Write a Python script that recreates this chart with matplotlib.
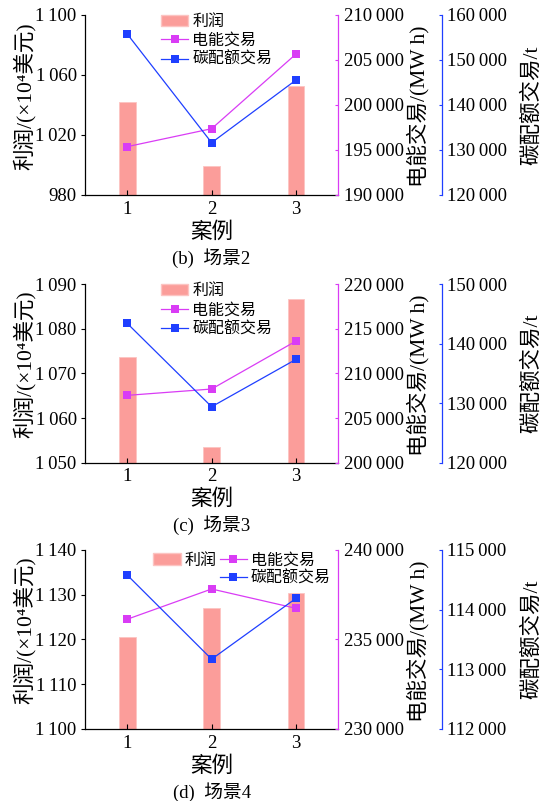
import matplotlib
matplotlib.use("Agg")
import numpy as np
import matplotlib.pyplot as plt
from matplotlib.patches import Patch
from matplotlib.ticker import FuncFormatter

plt.rcParams["font.family"] = ["Liberation Serif", "Noto Sans CJK SC", "DejaVu Serif"]

# data
cases = [1, 2, 3]

profit_b = [1041.7, 999.3, 1052.5]          # 1e4 USD
elec_b = [195360, 197350, 205640]           # MW h
carbon_b = [155720, 131600, 145510]         # t

profit_c = [1073.7, 1053.6, 1086.7]
elec_c = [207540, 208250, 213620]
carbon_c = [143400, 129400, 137360]

profit_d = [1120.6, 1127.0, 1130.4]
elec_d = [236130, 237820, 236740]
carbon_d = [114580, 113170, 114190]

BAR = "#fb9d9a"
MAG = "#d93cf5"
BLUE = "#1f3fff"
TICK_FS = 13.5
LABEL_FS = 15.5


def thin_thousands(v, pos):
    return f"{int(round(v)):,}".replace(",", "\u2009")


def ticks(lim, step):
    return np.arange(lim[0], lim[1] + step / 2, step)


def panel(fig, rect, profit, elec, carbon, plim, pstep, elim, estep,
          clim, cstep, caption, two_col=False):
    ax = fig.add_axes(rect)
    ax.bar(cases, profit, width=0.2, color=BAR, edgecolor="#fcc4c2",
           linewidth=0.6)
    ax.set_xlim(0.5, 3.5)
    ax.set_ylim(*plim)
    ax.set_yticks(ticks(plim, pstep))
    ax.yaxis.set_major_formatter(FuncFormatter(thin_thousands))
    ax.set_xticks(cases)
    ax.tick_params(axis="x", direction="in", length=3.5, width=0.8,
                   labelsize=TICK_FS, pad=4)
    ax.tick_params(axis="y", direction="out", length=3, width=0.8,
                   labelsize=TICK_FS, pad=3)
    ax.spines["top"].set_visible(False)
    ax.spines["right"].set_visible(False)
    for s in ("left", "bottom"):
        ax.spines[s].set_linewidth(0.9)
    ax.set_ylabel("利润/(×10⁴美元)", fontsize=LABEL_FS, va="center")
    ax.yaxis.set_label_coords(-0.24, 0.55)
    ax.set_xlabel("案例", fontsize=LABEL_FS, labelpad=3)
    ax.text(0.5, -0.35, caption, transform=ax.transAxes, ha="center",
            va="center", fontsize=13.5)

    # electricity trade axis
    ax2 = ax.twinx()
    ax2.plot(cases, elec, color=MAG, lw=0.9, marker="s", ms=5.5,
             markeredgewidth=0)
    ax2.set_ylim(*elim)
    ax2.set_yticks(ticks(elim, estep))
    ax2.yaxis.set_major_formatter(FuncFormatter(thin_thousands))
    for s in ("top", "left", "bottom"):
        ax2.spines[s].set_visible(False)
    ax2.spines["right"].set_color(MAG)
    ax2.spines["right"].set_linewidth(0.9)
    ax2.tick_params(axis="y", direction="in", length=2.5, width=0.8,
                    color=MAG, labelsize=TICK_FS, pad=4)
    ax2.set_ylabel("电能交易/(MW h)", fontsize=LABEL_FS, va="center")
    ax2.yaxis.set_label_coords(1.315, 0.49)

    # carbon quota trade axis
    ax3 = ax.twinx()
    ax3.spines["right"].set_position(("axes", 1.408))
    ax3.plot(cases, carbon, color=BLUE, lw=0.9, marker="s", ms=5.5,
             markeredgewidth=0)
    ax3.set_ylim(*clim)
    ax3.set_yticks(ticks(clim, cstep))
    ax3.yaxis.set_major_formatter(FuncFormatter(thin_thousands))
    for s in ("top", "left", "bottom"):
        ax3.spines[s].set_visible(False)
    ax3.spines["right"].set_color(BLUE)
    ax3.spines["right"].set_linewidth(0.9)
    ax3.tick_params(axis="y", direction="in", length=2.5, width=0.8,
                    color=BLUE, labelsize=TICK_FS, pad=4)
    ax3.set_ylabel("碳配额交易/t", fontsize=LABEL_FS, va="center")
    ax3.yaxis.set_label_coords(1.765, 0.5)

    h_bar = Patch(facecolor=BAR, edgecolor="#fcc4c2")
    h_e = ax2.lines[0]
    h_c = ax3.lines[0]
    if two_col:
        blank = Patch(visible=False)
        ax3.legend([h_bar, blank, h_e, h_c],
                   ["利润", "", "电能交易", "碳配额交易"], ncol=2,
                   loc="upper left", bbox_to_anchor=(0.27, 0.985),
                   frameon=False, fontsize=11.5, borderpad=0,
                   borderaxespad=0, handlelength=1.7, handletextpad=0.25,
                   labelspacing=0.15, columnspacing=0.2)
    else:
        ax3.legend([h_bar, h_e, h_c], ["利润", "电能交易", "碳配额交易"],
                   loc="upper left", bbox_to_anchor=(0.3, 1.005),
                   frameon=False, fontsize=11.5, borderpad=0,
                   borderaxespad=0, handlelength=1.7, handletextpad=0.25,
                   labelspacing=0.2)


fig = plt.figure(figsize=(5.42, 8.01), dpi=100)

panel(fig, [0.1568, 0.7566, 0.4673, 0.2251], profit_b, elec_b, carbon_b,
      (980, 1100), 40, (190000, 210000), 5000, (120000, 160000), 10000,
      "(b)  场景2")
panel(fig, [0.1568, 0.4223, 0.4673, 0.2231], profit_c, elec_c, carbon_c,
      (1050, 1090), 10, (200000, 220000), 5000, (120000, 150000), 10000,
      "(c)  场景3")
panel(fig, [0.1568, 0.0899, 0.4673, 0.2235], profit_d, elec_d, carbon_d,
      (1100, 1140), 10, (230000, 240000), 5000, (112000, 115000), 1000,
      "(d)  场景4", two_col=True)

fig.savefig("out.png", dpi=100)
